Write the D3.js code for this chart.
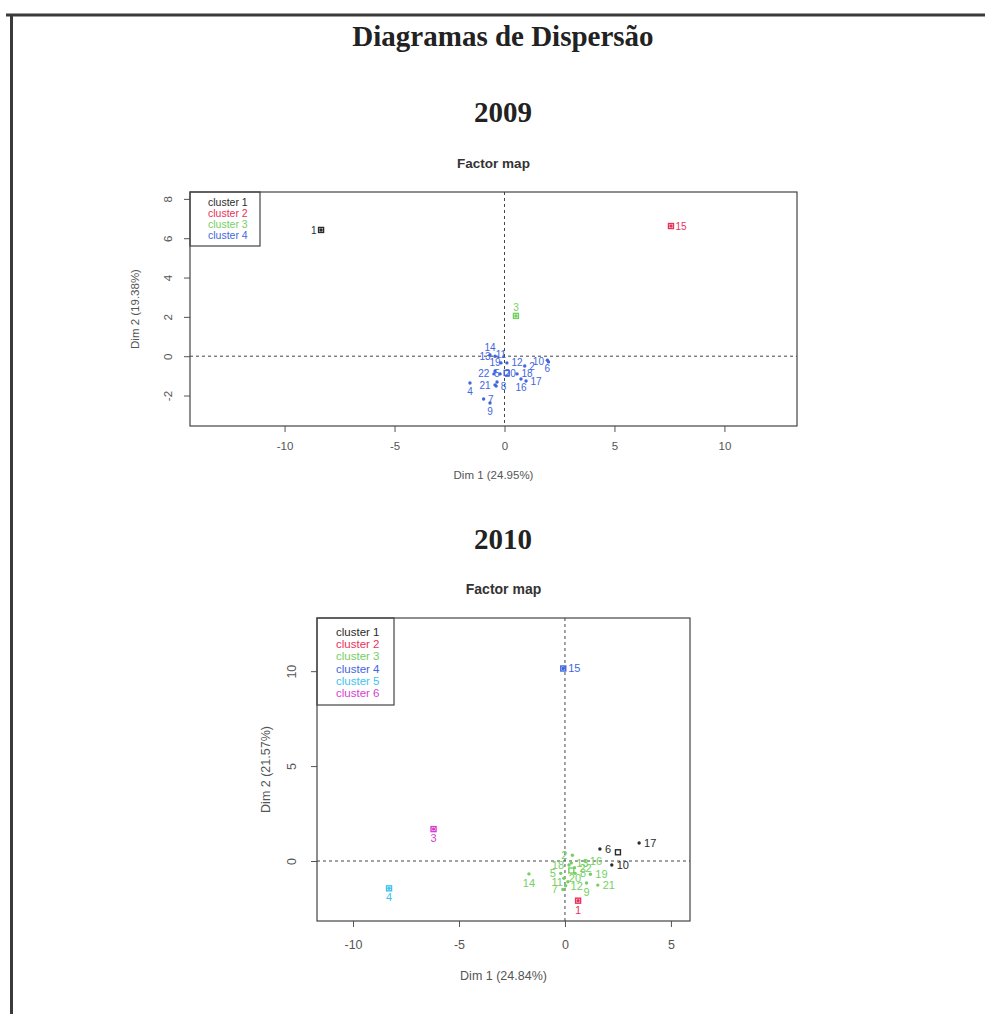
<!DOCTYPE html>
<html>
<head>
<meta charset="utf-8">
<script src="https://cdn.jsdelivr.net/npm/d3@7"></script>
<style>
  body { margin: 0; background: #fff; }
  svg text { font-family: "Liberation Sans", Arial, sans-serif; }
</style>
</head>
<body>
<svg id="page" width="985" height="1014"></svg>
<script>
// ---- data ----
const clusterColors = ["#2b2b2b", "#e8325a", "#74cf62", "#3f66e0", "#3ec3ef", "#d43fd0"];

// 2009
const ids2009 = [1, 15, 3, 14, 13, 11, 19, 12, 10, 6, 2, 22, 5, 20, 18, 17, 16, 21, 8, 4, 7, 9];
const dim1_2009 = [-8.34, 7.57, 0.52, -0.66, -0.43, -0.16, -0.43, 0.11, 2.0, 1.95, 0.92, -0.48, -0.34, -0.2, 0.57, 0.98, 0.75, -0.43, -0.38, -1.57, -0.95, -0.66];
const dim2_2009 = [6.42, 6.62, 2.05, 0.06, 0.0, -0.34, -0.75, -0.34, -0.29, -0.2, -0.5, -0.9, -1.31, -0.9, -0.9, -1.26, -1.16, -1.46, -1.52, -1.36, -2.18, -2.38];
const cluster2009 = [1, 2, 3, 4, 4, 4, 4, 4, 4, 4, 4, 4, 4, 4, 4, 4, 4, 4, 4, 4, 4, 4];
// R text() pos codes: 1 below, 2 left, 3 above, 4 right
const labelSide2009 = [2, 4, 3, 3, 2, 3, 3, 4, 2, 1, 4, 2, 3, 4, 4, 4, 1, 2, 4, 1, 4, 1];
const centreDim1_2009 = [-8.34, 7.57, 0.52, 0.1];
const centreDim2_2009 = [6.42, 6.62, 2.05, -0.85];
const legend2009 = ["cluster 1", "cluster 2", "cluster 3", "cluster 4"];
const xTicks2009 = [-10, -5, 0, 5, 10];
const yTicks2009 = [-2, 0, 2, 4, 6, 8];

// 2010
const ids2010 = [15, 3, 4, 1, 6, 17, 10, 2, 14, 16, 13, 19, 21, 9, 12, 5, 11, 20, 8, 18, 22, 7];
const dim1_2010 = [-0.08, -6.2, -8.3, 0.62, 1.65, 3.5, 2.21, 0.35, -1.7, 0.94, 0.3, 1.2, 1.55, 1.02, 0.03, -0.2, 0.14, -0.05, 0.48, 0.19, 0.45, -0.1];
const dim2_2010 = [10.14, 1.68, -1.44, -2.09, 0.63, 0.95, -0.21, 0.3, -0.68, 0.0, -0.1, -0.7, -1.27, -1.16, -1.3, -0.65, -1.09, -0.91, -0.65, -0.21, -0.35, -1.5];
const cluster2010 = [4, 6, 5, 2, 1, 1, 1, 3, 3, 3, 3, 3, 3, 3, 3, 3, 3, 3, 3, 3, 3, 3];
const labelSide2010 = [4, 1, 1, 1, 4, 4, 4, 2, 1, 4, 4, 4, 4, 1, 4, 2, 2, 4, 4, 2, 4, 2];
const centreDim1_2010 = [2.5, 0.62, 0.3, -0.08, -8.3, -6.2];
const centreDim2_2010 = [0.46, -2.09, -0.5, 10.14, -1.44, 1.68];
const legend2010 = ["cluster 1", "cluster 2", "cluster 3", "cluster 4", "cluster 5", "cluster 6"];
const xTicks2010 = [-10, -5, 0, 5];
const yTicks2010 = [0, 5, 10];

const svg = d3.select("#page");

// page frame (scanned document border)
svg.append("line").attr("x1", 6).attr("x2", 985).attr("y1", 15).attr("y2", 15)
    .attr("stroke", "#3a3a3a").attr("stroke-width", 3);
svg.append("line").attr("x1", 11.5).attr("x2", 11.5).attr("y1", 14).attr("y2", 1014)
    .attr("stroke", "#3a3a3a").attr("stroke-width", 3);

svg.append("text").attr("x", 503).attr("y", 46).attr("text-anchor", "middle")
    .style("font-family", "'Liberation Serif', 'Times New Roman', serif")
    .style("font-weight", "bold").style("font-size", "29px").attr("fill", "#222")
    .text("Diagramas de Dispersão");

function factorMap(cfg) {
    const x = d3.scaleLinear().domain(cfg.xDomain).range([cfg.left, cfg.right]);
    const y = d3.scaleLinear().domain(cfg.yDomain).range([cfg.bottom, cfg.top]);
    const g = svg.append("g").attr("class", "factor-map");

    // year heading
    g.append("text").attr("x", 503).attr("y", cfg.yearY).attr("text-anchor", "middle")
        .style("font-family", "'Liberation Serif', 'Times New Roman', serif")
        .style("font-weight", "bold").style("font-size", "29px").attr("fill", "#222")
        .text(cfg.year);

    // plot title
    g.append("text").attr("x", (cfg.left + cfg.right) / 2).attr("y", cfg.titleY)
        .attr("text-anchor", "middle").style("font-weight", "bold")
        .style("font-size", cfg.titleSize + "px").attr("fill", "#333").text("Factor map");

    // axes
    const xAxis = g.append("g").attr("transform", `translate(0,${cfg.bottom})`)
        .call(d3.axisBottom(x).tickValues(cfg.xTicks).tickSize(6).tickPadding(cfg.xPad)
            .tickFormat(d => d < 0 ? "-" + Math.abs(d) : d));
    const yAxis = g.append("g").attr("transform", `translate(${cfg.left},0)`)
        .call(d3.axisLeft(y).tickValues(cfg.yTicks).tickSize(6)
            .tickFormat(d => d < 0 ? "-" + Math.abs(d) : d));
    [xAxis, yAxis].forEach(a => {
        a.select(".domain").remove();
        a.selectAll("line").attr("stroke", "#555");
        a.selectAll("text").attr("fill", "#555").style("font-size", cfg.tickSize + "px")
            .style("font-family", "'Liberation Sans', Arial, sans-serif");
    });
    yAxis.selectAll("text").attr("x", 0).attr("dy", 0).attr("text-anchor", "middle")
        .attr("transform", `translate(${-cfg.yLab},0) rotate(-90)`);

    // axis titles
    g.append("text").attr("x", (cfg.left + cfg.right) / 2).attr("y", cfg.xTitleY)
        .attr("text-anchor", "middle").style("font-size", cfg.tickSize + "px")
        .attr("fill", "#555").text(cfg.xTitle);
    g.append("text").attr("transform", `translate(${cfg.yTitleX},${(cfg.top + cfg.bottom) / 2}) rotate(-90)`)
        .attr("text-anchor", "middle").style("font-size", cfg.tickSize + "px")
        .attr("fill", "#555").text(cfg.yTitle);

    // box
    g.append("rect").attr("x", cfg.left).attr("y", cfg.top)
        .attr("width", cfg.right - cfg.left).attr("height", cfg.bottom - cfg.top)
        .attr("fill", "none").attr("stroke", "#444").attr("stroke-width", 1.2);

    // dashed reference lines
    g.append("line").attr("x1", x(0)).attr("x2", x(0)).attr("y1", cfg.top).attr("y2", cfg.bottom)
        .attr("stroke", "#444").attr("stroke-dasharray", "3,3");
    g.append("line").attr("x1", cfg.left).attr("x2", cfg.right).attr("y1", y(0)).attr("y2", y(0))
        .attr("stroke", "#444").attr("stroke-dasharray", "3,3");

    // legend
    const lg = g.append("g");
    lg.selectAll("text").data(cfg.legend).join("text")
        .attr("x", cfg.left + cfg.legPadX).attr("y", (d, i) => cfg.top + cfg.legFirst + i * cfg.legStep)
        .style("font-size", cfg.legSize + "px").attr("fill", (d, i) => clusterColors[i])
        .text(d => d);
    lg.append("rect").attr("x", cfg.left).attr("y", cfg.top)
        .attr("width", cfg.legW).attr("height", cfg.legH)
        .attr("fill", "none").attr("stroke", "#444").attr("stroke-width", 1.2);

    // individuals
    const pts = cfg.ids.map((id, i) => ({
        id, x: cfg.dim1[i], y: cfg.dim2[i], c: cfg.cluster[i], side: cfg.side[i]
    }));
    g.selectAll("circle.ind").data(pts).join("circle").attr("class", "ind")
        .attr("cx", d => x(d.x)).attr("cy", d => y(d.y)).attr("r", 1.7)
        .attr("fill", d => clusterColors[d.c - 1]);

    // cluster centres
    const cs = cfg.cDim1.map((v, i) => ({ x: v, y: cfg.cDim2[i], c: i + 1 }));
    g.selectAll("rect.centre").data(cs).join("rect").attr("class", "centre")
        .attr("x", d => x(d.x) - 2.5).attr("y", d => y(d.y) - 2.5)
        .attr("width", 5).attr("height", 5).attr("fill", "none")
        .attr("stroke", d => clusterColors[d.c - 1]).attr("stroke-width", 1.4);

    // labels, placed like R's text(pos = ...)
    const fs = cfg.labSize, off = fs * 0.45;
    g.selectAll("text.lab").data(pts).join("text").attr("class", "lab")
        .attr("x", d => x(d.x) + (d.side === 2 ? -off : d.side === 4 ? off : 0))
        .attr("y", d => y(d.y) + (d.side === 1 ? off + fs * 0.72 : d.side === 3 ? -off : fs * 0.36))
        .attr("text-anchor", d => d.side === 2 ? "end" : d.side === 4 ? "start" : "middle")
        .style("font-size", fs + "px").attr("fill", d => clusterColors[d.c - 1])
        .text(d => d.id);
}

factorMap({
    year: "2009", yearY: 122, titleY: 168, titleSize: 13.5,
    left: 190, right: 797, top: 192, bottom: 426,
    xDomain: [-14.3, 13.3], yDomain: [-3.55, 8.35],
    xTicks: xTicks2009, yTicks: yTicks2009, tickSize: 11.5, xPad: 10, yLab: 18,
    xTitle: "Dim 1 (24.95%)", yTitle: "Dim 2 (19.38%)", xTitleY: 479, yTitleX: 139,
    legend: legend2009, legPadX: 18, legFirst: 14, legStep: 11, legSize: 10.5, legW: 70, legH: 54,
    ids: ids2009, dim1: dim1_2009, dim2: dim2_2009, cluster: cluster2009, side: labelSide2009,
    cDim1: centreDim1_2009, cDim2: centreDim2_2009, labSize: 10
});

factorMap({
    year: "2010", yearY: 549, titleY: 594, titleSize: 14,
    left: 317, right: 690, top: 618, bottom: 921,
    xDomain: [-11.7, 5.9], yDomain: [-3.16, 12.8],
    xTicks: xTicks2010, yTicks: yTicks2010, tickSize: 12.5, xPad: 13, yLab: 21,
    xTitle: "Dim 1 (24.84%)", yTitle: "Dim 2 (21.57%)", xTitleY: 980, yTitleX: 270,
    legend: legend2010, legPadX: 19, legFirst: 18, legStep: 12.2, legSize: 11.5, legW: 77, legH: 87,
    ids: ids2010, dim1: dim1_2010, dim2: dim2_2010, cluster: cluster2010, side: labelSide2010,
    cDim1: centreDim1_2010, cDim2: centreDim2_2010, labSize: 11
});
</script>
</body>
</html>
